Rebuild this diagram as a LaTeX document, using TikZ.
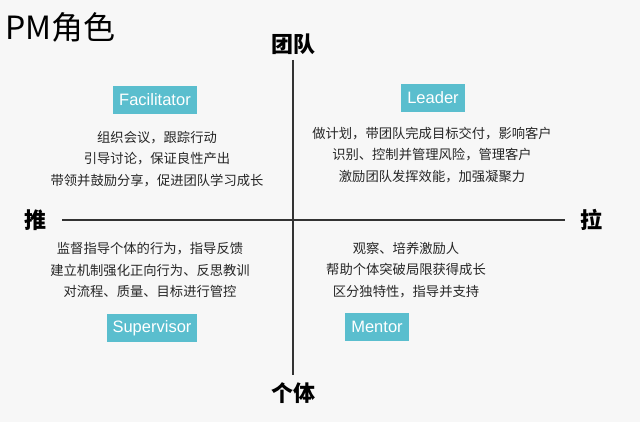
\documentclass[tikz,border=0pt]{standalone}
\usepackage{fontspec}
\setmainfont{Noto Sans CJK SC}
\newfontfamily\latinfont{Liberation Sans}
\usetikzlibrary{positioning}
\definecolor{rolecyan}{RGB}{90,190,206}

\begin{document}
\begin{tikzpicture}[x=1pt,y=-1pt]
\tikzstyle{role}=[rectangle, fill=rolecyan, text=white, minimum height=28pt, inner xsep=6pt, font=\latinfont\fontsize{16.5}{18}\selectfont]
\tikzstyle{duty}=[align=center, font=\fontsize{13.3}{21.5}\selectfont, text=black!85]
\tikzstyle{axislabel}=[font=\bfseries\fontsize{22}{24}\selectfont]
\tikzstyle{axis}=[black!80, line width=1.2pt]

% background and frame
\fill[black!3] (0,0) rectangle (640,422);
\useasboundingbox (0,0) rectangle (640,422);

\node[font=\fontsize{32}{34}\selectfont, anchor=west] (title) at (2,27) {PM角色};

% axes
\coordinate (top) at (293,60);
\coordinate (bottom) at (293,375);
\coordinate (left) at (62,220);
\coordinate (right) at (565,220);
\draw[axis] (top) -- (bottom);
\draw[axis] (left) -- (right);

\node[axislabel, above=2pt of top] (team) {团队};
\node[axislabel, below=4pt of bottom] (single) {个体};
\node[axislabel, left=12pt of left] (push) {推};
\node[axislabel, right=12pt of right] (pull) {拉};

% roles
\node[role] (facil) at (155,100) {Facilitator};
\node[role] (lead) at (433,98) {Leader};
\node[role] (super) at (152,328) {Supervisor};
\node[role] (mentor) at (377,327) {Mentor};

% duties
\node[duty] (facild) at (157,159) {组织会议，跟踪行动\\引导讨论，保证良性产出\\带领并鼓励分享，促进团队学习成长};
\node[duty] (leadd) at (432,155) {做计划，带团队完成目标交付，影响客户\\识别、控制并管理风险，管理客户\\激励团队发挥效能，加强凝聚力};
\node[duty] (superd) at (150,270) {监督指导个体的行为，指导反馈\\建立机制强化正向行为、反思教训\\对流程、质量、目标进行管控};
\node[duty] (mentord) at (406,270) {观察、培养激励人\\帮助个体突破局限获得成长\\区分独特性，指导并支持};
\end{tikzpicture}
\end{document}
